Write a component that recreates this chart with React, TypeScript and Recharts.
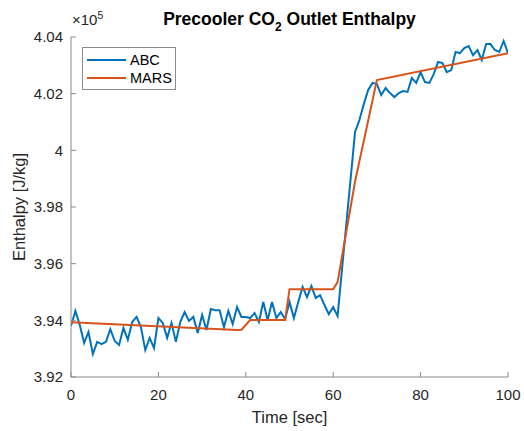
import { LineChart, Line, XAxis, YAxis, Legend } from "recharts";

// ABC sampled every second from t = 0 to 100
const abcValues = [
  393800, 394330, 393840, 393200, 393590, 392810, 393240, 393160, 393240, 393690,
  393270, 393130, 393730, 393310, 393940, 394120, 393760, 392950, 393380, 393020,
  394080, 393910, 393380, 393910, 393240, 393940, 394290, 393980, 394120, 393550,
  394190, 393660, 394400, 394360, 394360, 393760, 394330, 393870, 394470, 394120,
  394120, 394080, 394260, 393940, 394650, 394010, 394650, 394080, 394290, 394050,
  394650, 394080, 394650, 395180, 394820, 395210, 394790, 394890, 394540, 394220,
  394470, 394150, 395780, 397400, 399020, 400650, 401070, 401630, 402130, 402380,
  402340, 401950, 402200, 402020, 401880, 402020, 402090, 402060, 402550, 402380,
  402760, 402410, 402380, 402690, 403120, 403080, 402760, 402830, 403470, 403430,
  403610, 403680, 403360, 403540, 403190, 403750, 403750, 403540, 403470, 403860,
  403430,
];

const marsTime = [0, 38, 39, 41, 49, 50, 60, 61, 65, 70, 100];
const marsValues = [
  393930, 393660, 393670, 394010, 394010, 395100, 395100, 395350, 398900, 402480, 403430,
];

const xTicks = [0, 20, 40, 60, 80, 100];
const yTicks = [392000, 394000, 396000, 398000, 400000, 402000, 404000];
const yTickLabels = ["3.92", "3.94", "3.96", "3.98", "4", "4.02", "4.04"];

const abcData = abcValues.map((y, t) => ({ t, y }));
const marsData = marsTime.map((t, i) => ({ t, y: marsValues[i] }));

const FONT = "'Liberation Sans', Arial, Helvetica, sans-serif";
const TXT = "#262626";
const AX = "#8a8a8a";

function LegendBox({ payload }: any) {
  return (
    <div
      style={{
        border: "1px solid #8a8a8a",
        background: "#fff",
        width: 94,
        height: 43,
        boxSizing: "border-box",
        padding: "3px 0 0 4px",
        fontFamily: FONT,
        fontSize: 14.5,
        color: "#000",
      }}
    >
      {(payload || []).map((p: any) => (
        <div key={p.value} style={{ display: "flex", alignItems: "center", height: 18 }}>
          <span style={{ width: 39, height: 2, background: p.color, marginRight: 4 }} />
          <span>{p.value}</span>
        </div>
      ))}
    </div>
  );
}

export default function App() {
  return (
    <div style={{ position: "absolute", left: 0, top: 0, width: 524, height: 431, background: "#fff" }}>
      <LineChart width={524} height={431} margin={{ top: 37, right: 16, bottom: 0, left: 0 }}>
        <XAxis
          dataKey="t"
          type="number"
          domain={[0, 100]}
          ticks={xTicks}
          allowDataOverflow
          height={54}
          tickSize={-5}
          tickMargin={17}
          stroke={AX}
          tick={{ fill: TXT, fontSize: 15, fontFamily: FONT }}
        />
        <XAxis
          xAxisId="top"
          orientation="top"
          dataKey="t"
          type="number"
          domain={[0, 100]}
          ticks={xTicks}
          height={0}
          tickSize={-5}
          tick={false}
          stroke={AX}
        />
        <YAxis
          type="number"
          domain={[392000, 404000]}
          ticks={yTicks}
          allowDataOverflow
          width={71}
          tickSize={-5}
          tickMargin={13}
          stroke={AX}
          tickFormatter={(v: number) => yTickLabels[yTicks.indexOf(v)]}
          tick={{ fill: TXT, fontSize: 15, fontFamily: FONT }}
        />
        <YAxis
          yAxisId="right"
          orientation="right"
          type="number"
          domain={[392000, 404000]}
          ticks={yTicks}
          width={0}
          tickSize={-5}
          tick={false}
          stroke={AX}
        />
        <Legend
          layout="vertical"
          align="center"
          verticalAlign="middle"
          wrapperStyle={{ left: 82, top: 47, width: 94 }}
          content={<LegendBox />}
        />
        <Line
          data={abcData}
          dataKey="y"
          name="ABC"
          stroke="#0072BD"
          strokeWidth={2}
          dot={false}
          isAnimationActive={false}
        />
        <Line
          data={marsData}
          dataKey="y"
          name="MARS"
          stroke="#D95319"
          strokeWidth={2}
          dot={false}
          isAnimationActive={false}
        />
      </LineChart>
      <svg
        width={524}
        height={431}
        style={{ position: "absolute", left: 0, top: 0, pointerEvents: "none" }}
        fontFamily={FONT}
      >
        <text x={289.5} y={25} textAnchor="middle" fontSize={17.5} fontWeight="bold" fill="#000">
          Precooler CO<tspan fontSize={12} dy={6}>2</tspan>
          <tspan dy={-6}> Outlet Enthalpy</tspan>
        </text>
        <text x={72} y={25} fontSize={15} fill={TXT}>
          ×10<tspan fontSize={10.5} dy={-6}>5</tspan>
        </text>
        <text x={289.5} y={423} textAnchor="middle" fontSize={16.5} fill={TXT}>
          Time [sec]
        </text>
        <text transform="translate(25,207) rotate(-90)" textAnchor="middle" fontSize={16.5} fill={TXT}>
          Enthalpy [J/kg]
        </text>
      </svg>
    </div>
  );
}
